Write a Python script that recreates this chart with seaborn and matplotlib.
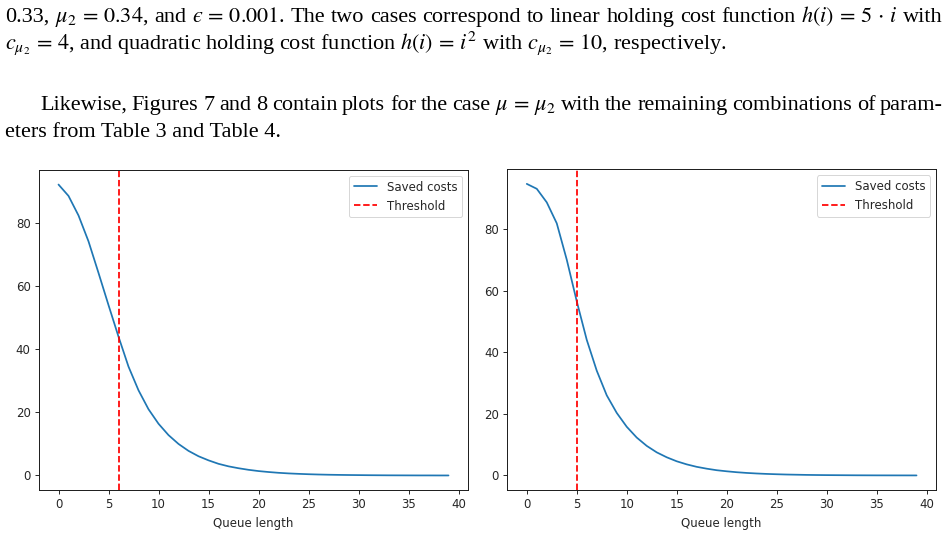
import seaborn as sns
import matplotlib.pyplot as plt
import pandas as pd

# values (saved costs per queue length)
queue_length = list(range(40))
saved_left = [92.2, 88.6, 82.4, 74.2, 64.2, 54.0, 44.0, 34.5, 27.0, 21.0,
              16.4, 12.8, 10.0, 7.8, 6.1, 4.8, 3.7, 2.9, 2.3, 1.8,
              1.4, 1.1, 0.85, 0.66, 0.52, 0.40, 0.31, 0.24, 0.19, 0.15,
              0.12, 0.09, 0.07, 0.05, 0.04, 0.03, 0.02, 0.02, 0.01, 0.01]
saved_right = [94.6, 93.0, 88.6, 81.8, 70.0, 56.5, 44.0, 34.0, 26.0, 20.3,
               15.8, 12.3, 9.6, 7.5, 5.9, 4.6, 3.6, 2.8, 2.2, 1.7,
               1.35, 1.05, 0.82, 0.64, 0.50, 0.39, 0.30, 0.24, 0.18, 0.14,
               0.11, 0.09, 0.07, 0.05, 0.04, 0.03, 0.025, 0.02, 0.015, 0.01]
threshold_left = 6
threshold_right = 5

line1 = ["0.33,", r"$\mu_2\,=\,0.34$,", "and", "$\u03f5\\,=\\,0.001$.", "The", "two",
         "cases", "correspond", "to", "linear", "holding", "cost", "function",
         r"$h(i)\,=\,5\,\cdot\,i$", "with"]
line2 = (r"$c_{\mu_2}\,=\,4$, and quadratic holding cost function $h(i)\,=\,i^2$ "
         r"with $c_{\mu_2}\,=\,10$, respectively.")
line3 = ["Likewise,", "Figures", "7", "and", "8", "contain", "plots", "for", "the",
         "case", r"$\mu\,=\,\mu_2$", "with", "the", "remaining", "combinations",
         "of", "param-"]
line4 = "eters from Table 3 and Table 4."

sns.set_style("ticks")
plt.rcParams['mathtext.fontset'] = 'stix'
plt.rcParams['font.family'] = ['DejaVu Sans']

W, H = 949, 559
fig = plt.figure(figsize=(W / 100, H / 100), dpi=100)

txt_size = 16
serif = ['Liberation Serif', 'DejaVu Serif']


def justify(words, y, x0, x1):
    r = fig.canvas.get_renderer()
    texts = [fig.text(0, 1 - y / H, w, fontsize=txt_size, family=serif,
                      va='baseline', color='black') for w in words]
    widths = [t.get_window_extent(r).width for t in texts]
    gap = (x1 - x0 - sum(widths)) / (len(words) - 1)
    x = x0
    for t, w in zip(texts, widths):
        t.set_x(x / W)
        x += w + gap


justify(line1, 22, 5, 943)
fig.text(5 / W, 1 - 49 / H, line2, fontsize=txt_size, family=serif,
         va='baseline', color='black')
justify(line3, 110, 40, 943)
fig.text(5 / W, 1 - 137 / H, line4, fontsize=txt_size, family=serif,
         va='baseline', color='black')

panels = [
    ([39 / W, 1 - 490 / H, 429 / W, 320 / H], saved_left, threshold_left),
    ([507.3 / W, 1 - 490 / H, 428.7 / W, 320.7 / H], saved_right, threshold_right),
]

for rect, saved, thr in panels:
    ax = fig.add_axes(rect)
    df = pd.DataFrame({'Queue length': queue_length, 'Saved costs': saved})
    sns.lineplot(data=df, x='Queue length', y='Saved costs', ax=ax,
                 color='#1f77b4', linewidth=1.25, label='Saved costs')
    ax.axvline(thr, color='red', linestyle='--', linewidth=1.25, label='Threshold')
    ax.set_ylabel('')
    ax.set_xticks(range(0, 41, 5))
    ax.set_yticks(range(0, 81, 20))
    ax.tick_params(labelsize=8.5, length=3, width=0.7, colors='#262626', pad=3)
    ax.xaxis.label.set_size(8.5)
    ax.xaxis.label.set_color('#262626')
    for s in ax.spines.values():
        s.set_linewidth(0.7)
        s.set_color('#1a1a1a')
    leg = ax.legend(loc='upper right', fontsize=8.5, frameon=True)
    leg.get_frame().set_linewidth(0.7)
    for t in leg.get_texts():
        t.set_color('#262626')

fig.savefig('out.png', dpi=100)
